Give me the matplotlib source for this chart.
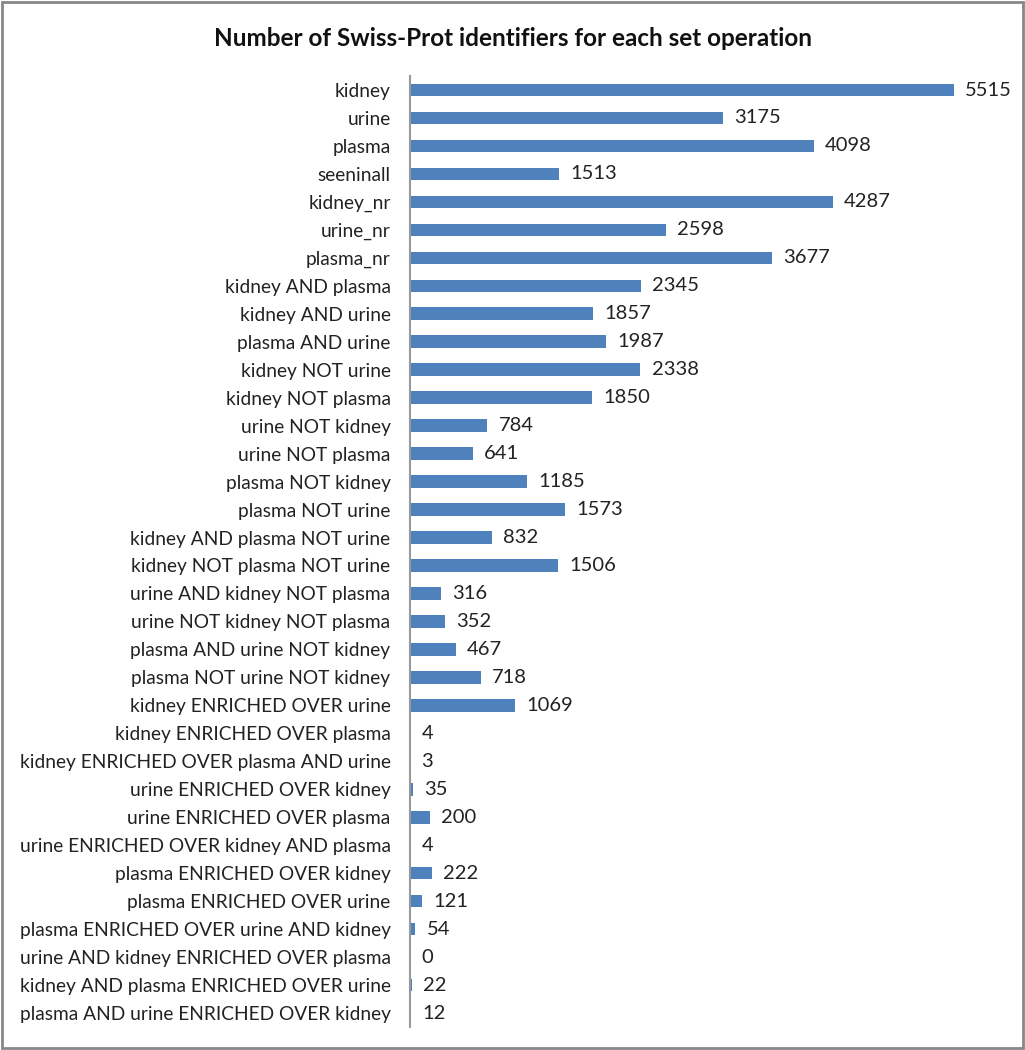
import matplotlib.pyplot as plt
from matplotlib.patches import Rectangle

# data (top to bottom as in the chart)
labels = [
    "kidney", "urine", "plasma", "seeninall", "kidney_nr", "urine_nr", "plasma_nr",
    "kidney AND plasma", "kidney AND urine", "plasma AND urine",
    "kidney NOT urine", "kidney NOT plasma", "urine NOT kidney", "urine NOT plasma",
    "plasma NOT kidney", "plasma NOT urine",
    "kidney AND plasma NOT urine", "kidney NOT plasma NOT urine",
    "urine AND kidney NOT plasma", "urine NOT kidney NOT plasma",
    "plasma AND urine NOT kidney", "plasma NOT urine NOT kidney",
    "kidney ENRICHED OVER urine", "kidney ENRICHED OVER plasma",
    "kidney ENRICHED OVER plasma AND urine", "urine ENRICHED OVER kidney",
    "urine ENRICHED OVER plasma", "urine ENRICHED OVER kidney AND plasma",
    "plasma ENRICHED OVER kidney", "plasma ENRICHED OVER urine",
    "plasma ENRICHED OVER urine AND kidney", "urine AND kidney ENRICHED OVER plasma",
    "kidney AND plasma ENRICHED OVER urine", "plasma AND urine ENRICHED OVER kidney",
]
counts = [
    5515, 3175, 4098, 1513, 4287, 2598, 3677,
    2345, 1857, 1987,
    2338, 1850, 784, 641,
    1185, 1573,
    832, 1506,
    316, 352,
    467, 718,
    1069, 4,
    3, 35,
    200, 4,
    222, 121,
    54, 0,
    22, 12,
]

plt.rcParams['font.family'] = ['Lato', 'DejaVu Sans']

fig = plt.figure(figsize=(10.25, 10.5), dpi=100)
ax = fig.add_axes([0.4, 0.0219, 0.577, 0.9057])

ypos = list(range(len(labels)))
ax.barh(ypos, counts, height=0.45, color='#4F81BD')
for y, v in zip(ypos, counts):
    ax.annotate(str(v), (v, y), xytext=(8, 0), textcoords='offset points',
                va='center', ha='left', fontsize=14.5, color='#222222')

ax.set_ylim(len(labels) - 0.5, -0.5)
ax.set_xlim(0, 6000)
ax.set_yticks(ypos)
ax.set_yticklabels(labels, fontsize=13.8, color='#222222')
ax.tick_params(axis='y', length=0, pad=14)
ax.set_xticks([])
for s in ['top', 'right', 'bottom']:
    ax.spines[s].set_visible(False)
ax.spines['left'].set_color('#999999')
ax.spines['left'].set_linewidth(1.5)

fig.text(0.5, 0.963, 'Number of Swiss-Prot identifiers for each set operation',
         ha='center', va='center', fontsize=17.5, fontweight='bold', color='#111111')

# outer border
fig.patches.append(Rectangle((0.002, 0.002), 0.996, 0.996, transform=fig.transFigure,
                             fill=False, edgecolor='#888888', linewidth=2))

fig.savefig('out.png', dpi=100)
